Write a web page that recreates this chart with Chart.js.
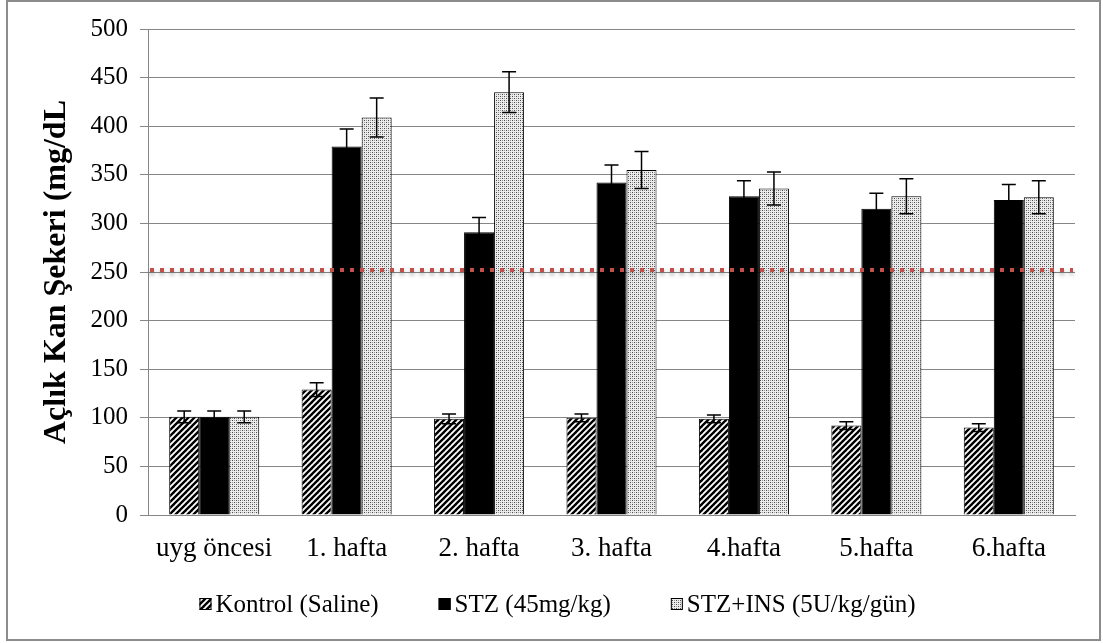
<!DOCTYPE html>
<html>
<head>
<meta charset="utf-8">
<script src="https://cdn.jsdelivr.net/npm/chart.js@4/dist/chart.umd.min.js"></script>
<style>
  html, body { margin: 0; padding: 0; background: #fff; }
  canvas { display: block; }
</style>
</head>
<body>
<canvas id="glucose" width="1103" height="643"></canvas>
<script>
const weeks = [ "uyg öncesi", "1. hafta", "2. hafta", "3. hafta", "4.hafta", "5.hafta", "6.hafta" ];

const kontrol = [ 101, 129, 99, 100, 99, 92, 90 ];
const kontrolErr = [ 6, 7, 5, 4, 4, 4, 4 ];

const stz = [ 101, 379, 291, 342, 328, 315, 324 ];
const stzErr = [ 6, 18, 15, 18, 16, 16, 16 ];

const stzIns = [ 101, 409, 435, 355, 336, 328, 327 ];
const stzInsErr = [ 6, 20, 21, 19, 17, 18, 17 ];

const diabetesLimit = 252;

const serif = "'Liberation Serif', 'Times New Roman', serif";

// small tiles for the hatched / dotted bar fills
function makeTile ( size, paint ) {
  const c = document.createElement( "canvas" );
  c.width = size;
  c.height = size;
  const g = c.getContext( "2d" );
  paint( g, size );
  return document.getElementById( "glucose" ).getContext( "2d" ).createPattern( c, "repeat" );
}

const stripes = makeTile( 6, ( g, s ) => {
  g.fillStyle = "#fff";
  g.fillRect( 0, 0, s, s );
  g.strokeStyle = "#000";
  g.lineWidth = 2.4;
  g.lineCap = "square";
  for ( let k = -1; k <= 1; k++ ) {
    g.beginPath();
    g.moveTo( k * s - 1, s + 1 );
    g.lineTo( k * s + s + 1, -1 );
    g.stroke();
  }
} );

const dots = makeTile( 4, ( g, s ) => {
  g.fillStyle = "#ececec";
  g.fillRect( 0, 0, s, s );
  g.fillStyle = "#4a4a4a";
  g.fillRect( 0, 0, 1, 1 );
  g.fillRect( 2, 2, 1, 1 );
  g.fillStyle = "#999";
  g.fillRect( 2, 0, 1, 1 );
  g.fillRect( 0, 2, 1, 1 );
} );

const errors = [ kontrolErr, stzErr, stzInsErr ];

const frame = {
  id: "frame",
  beforeDraw ( chart ) {
    const c = chart.ctx;
    c.save();
    c.fillStyle = "#fff";
    c.fillRect( 0, 0, chart.width, chart.height );
    c.strokeStyle = "#8c8c8c";
    c.lineWidth = 2;
    c.strokeRect( 7, 1, chart.width - 10, chart.height - 4 );
    c.restore();
  }
};

const limitLine = {
  id: "limitLine",
  afterDatasetsDraw ( chart ) {
    const c = chart.ctx;
    const y = chart.scales.y.getPixelForValue( diabetesLimit );
    const { left, right } = chart.chartArea;
    c.save();
    c.strokeStyle = "#c0504d";
    c.lineWidth = 4;
    c.setLineDash( [ 4, 6 ] );
    c.shadowColor = "rgba(0,0,0,0.35)";
    c.shadowBlur = 4;
    c.shadowOffsetY = 3;
    c.beginPath();
    c.moveTo( left + 2, y );
    c.lineTo( right - 2, y );
    c.stroke();
    c.restore();
  }
};

const errorBars = {
  id: "errorBars",
  afterDatasetsDraw ( chart ) {
    const c = chart.ctx;
    const ys = chart.scales.y;
    c.save();
    c.strokeStyle = "#000";
    c.lineWidth = 1.5;
    chart.data.datasets.forEach( ( ds, i ) => {
      const meta = chart.getDatasetMeta( i );
      meta.data.forEach( ( bar, j ) => {
        const v = ds.data[ j ];
        const e = errors[ i ][ j ];
        const top = ys.getPixelForValue( v + e );
        const bot = ys.getPixelForValue( v - e );
        c.beginPath();
        c.moveTo( bar.x, top );
        c.lineTo( bar.x, bot );
        c.moveTo( bar.x - 7, top );
        c.lineTo( bar.x + 7, top );
        c.moveTo( bar.x - 7, bot );
        c.lineTo( bar.x + 7, bot );
        c.stroke();
      } );
    } );
    c.restore();
  }
};

// legend row at the bottom: small swatch right next to its text
const swatchLegend = {
  id: "swatchLegend",
  afterDraw ( chart ) {
    const c = chart.ctx;
    const box = 12, gap = 4, spacing = 60;
    const y = 604;
    c.save();
    c.font = "25px " + serif;
    c.textBaseline = "middle";
    const items = chart.data.datasets.map( ds => ( {
      ds, w: box + gap + c.measureText( ds.label ).width
    } ) );
    const total = items.reduce( ( a, it ) => a + it.w, 0 ) + spacing * ( items.length - 1 );
    let x = chart.width / 2 + 6 - total / 2;
    items.forEach( it => {
      c.fillStyle = it.ds.backgroundColor;
      c.fillRect( x, y - box / 2, box, box );
      c.strokeStyle = "#000";
      c.lineWidth = 1;
      c.strokeRect( x + 0.5, y - box / 2 + 0.5, box - 1, box - 1 );
      c.fillStyle = "#000";
      c.fillText( it.ds.label, x + box + gap, y + 1 );
      x += it.w + spacing;
    } );
    c.restore();
  }
};

new Chart( document.getElementById( "glucose" ), {
  type: "bar",
  data: {
    labels: weeks,
    datasets: [
      { label: "Kontrol (Saline)", data: kontrol, backgroundColor: stripes, borderColor: "#000", borderWidth: 1 },
      { label: "STZ (45mg/kg)", data: stz, backgroundColor: "#000", borderColor: "#000", borderWidth: 1 },
      { label: "STZ+INS (5U/kg/gün)", data: stzIns, backgroundColor: dots, borderColor: "#000", borderWidth: 1 }
    ]
  },
  options: {
    responsive: false,
    animation: false,
    layout: { padding: { top: 29, right: 28, bottom: 61, left: 0 } },
    datasets: { bar: { categoryPercentage: 0.68, barPercentage: 1 } },
    plugins: {
      legend: { display: false },
      tooltip: { enabled: false }
    },
    scales: {
      x: {
        grid: { display: false, drawTicks: false },
        border: { display: true, color: "#868686", width: 1 },
        ticks: { font: { family: serif, size: 27 }, color: "#000", padding: 18 },
        afterFit ( s ) { s.height = 67; }
      },
      y: {
        min: 0,
        max: 500,
        ticks: { stepSize: 50, font: { family: serif, size: 25 }, color: "#000", padding: 12 },
        grid: { color: "#868686", lineWidth: 1, tickLength: 8, drawTicks: true },
        border: { display: true, color: "#868686", width: 1 },
        title: {
          display: true,
          text: "Açlık Kan Şekeri (mg/dL",
          font: { family: serif, size: 32, weight: "bold" },
          color: "#000",
          padding: { top: 38, bottom: 0 }
        },
        afterFit ( s ) { s.width = 148; }
      }
    }
  },
  plugins: [ frame, limitLine, errorBars, swatchLegend ]
} );
</script>
</body>
</html>
